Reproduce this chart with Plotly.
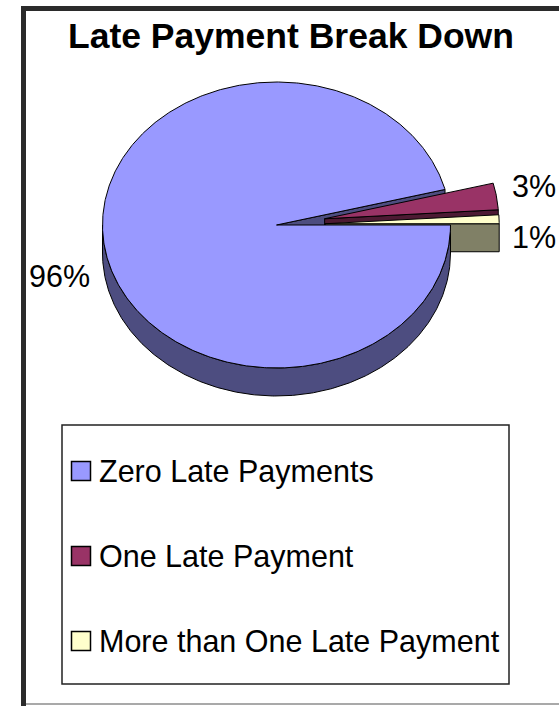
import numpy as np
import plotly.graph_objects as go

# ---------------- data ----------------
labels = ["Zero Late Payments", "One Late Payment", "More than One Late Payment"]
values = [96, 3, 1]
title_text = "Late Payment Break Down"

# ---------------- style ----------------
colors = ["#9999FF", "#993366", "#FFFFCC"]
side_colors = ["#4D4D80", "#4D1A33", "#808066"]
pulls = [0.0, 0.28, 0.28]
CX, CY, RX, RY, DEPTH = 276.5, 225.0, 174.0, 143.0, 28.0
START = 0.0  # degrees (math), slices run clockwise
FONT = "Liberation Sans, Arial, sans-serif"
label_dx = [-12, 14, 11]
label_dy = [33, -10, 18]
label_anchor = ["right", "left", "left"]

total = float(sum(values))
cum = np.concatenate([[0.0], np.cumsum(values) / total])
slices = []
for i, v in enumerate(values):
    a = START - cum[i + 1] * 360.0
    b = START - cum[i] * 360.0
    m = (a + b) / 2.0
    ex = pulls[i] * RX * np.cos(np.radians(m))
    ey = -pulls[i] * RY * np.sin(np.radians(m))
    slices.append(dict(a=a, b=b, m=m, ex=ex, ey=ey, i=i))


def pt(theta, ex, ey, dz=0.0):
    t = np.radians(theta)
    return CX + RX * np.cos(t) + ex, CY - RY * np.sin(t) + ey + dz


def arc(lo, hi, ex, ey, dz=0.0):
    n = max(3, int(abs(hi - lo) * 2) + 2)
    th = np.linspace(lo, hi, n)
    x, y = pt(th, ex, ey, dz)
    return list(x), list(y)


fig = go.Figure()


def poly(xs, ys, fill):
    fig.add_trace(go.Scatter(
        x=xs + [xs[0]], y=ys + [ys[0]], mode="lines", fill="toself",
        fillcolor=fill, line=dict(color="black", width=1),
        hoverinfo="skip", showlegend=False))


# radial (cut) faces that face the viewer, back first
faces = []
for s in slices:
    if np.cos(np.radians(s["a"])) > 0:
        faces.append((s["a"], s))
faces.sort(key=lambda f: -np.sin(np.radians(f[0])))
for th, s in faces:
    ax, ay = CX + s["ex"], CY + s["ey"]
    px, py = pt(th, s["ex"], s["ey"])
    poly([ax, px, px, ax], [ay, py, py + DEPTH, ay + DEPTH], side_colors[s["i"]])

# outer walls (front half only)
for s in slices:
    for k in range(-2, 2):
        lo = max(s["a"], -180.0 + 360.0 * k)
        hi = min(s["b"], 360.0 * k)
        if hi > lo:
            tx, ty = arc(lo, hi, s["ex"], s["ey"])
            bx, by = arc(hi, lo, s["ex"], s["ey"], DEPTH)
            poly(tx + bx, ty + by, side_colors[s["i"]])

# top faces: unexploded first, then exploded from back to front
order = sorted(slices, key=lambda s: (pulls[s["i"]] > 0, -np.sin(np.radians(s["m"]))))
for s in order:
    ax, ay = CX + s["ex"], CY + s["ey"]
    tx, ty = arc(s["a"], s["b"], s["ex"], s["ey"])
    poly([ax] + tx, [ay] + ty, colors[s["i"]])

annotations = []
# percentage labels
for s in slices:
    px, py = pt(s["m"], s["ex"], s["ey"])
    pct = values[s["i"]] / total * 100
    annotations.append(dict(
        x=px + label_dx[s["i"]], y=py + label_dy[s["i"]], xref="x", yref="y",
        text=f"{pct:.0f}%", showarrow=False, xanchor=label_anchor[s["i"]],
        yanchor="middle", font=dict(family=FONT, size=30.5, color="black")))

# title
annotations.append(dict(
    x=291, y=36, xref="x", yref="y", text=f"<b>{title_text}</b>", showarrow=False,
    xanchor="center", yanchor="middle", font=dict(family=FONT, size=35.5, color="black")))

shapes = [
    # chart frame
    dict(type="rect", x0=21, x1=26, y0=6, y1=706, xref="x", yref="y",
         fillcolor="#2b2b2b", line=dict(width=0)),
    dict(type="rect", x0=21, x1=560, y0=6, y1=11, xref="x", yref="y",
         fillcolor="#2b2b2b", line=dict(width=0)),
    dict(type="line", x0=26, x1=560, y0=704, y1=704, xref="x", yref="y",
         line=dict(color="#8c8c8c", width=1.5)),
    # legend box
    dict(type="rect", x0=62, x1=509, y0=425, y1=684, xref="x", yref="y",
         fillcolor="white", line=dict(color="#222222", width=1.5), layer="below"),
]

# legend entries
for i, lab in enumerate(labels):
    yc = 471 + i * 85
    shapes.append(dict(type="rect", x0=71.5, x1=90.5, y0=yc - 9.5, y1=yc + 9.5,
                       xref="x", yref="y", fillcolor=colors[i],
                       line=dict(color="black", width=1.5)))
    annotations.append(dict(
        x=97, y=yc, xref="x", yref="y", text=lab, showarrow=False,
        xanchor="left", yanchor="middle",
        font=dict(family=FONT, size=30.5, color="black")))

fig.update_layout(
    width=559, height=706, margin=dict(l=0, r=0, t=0, b=0),
    paper_bgcolor="white", plot_bgcolor="white",
    xaxis=dict(range=[0, 559], visible=False, fixedrange=True),
    yaxis=dict(range=[706, 0], visible=False, fixedrange=True),
    shapes=shapes, annotations=annotations, showlegend=False,
)

fig.write_html("out.html", config={"displayModeBar": False},
               post_script="document.body.style.margin='0';document.body.style.overflow='hidden';")
